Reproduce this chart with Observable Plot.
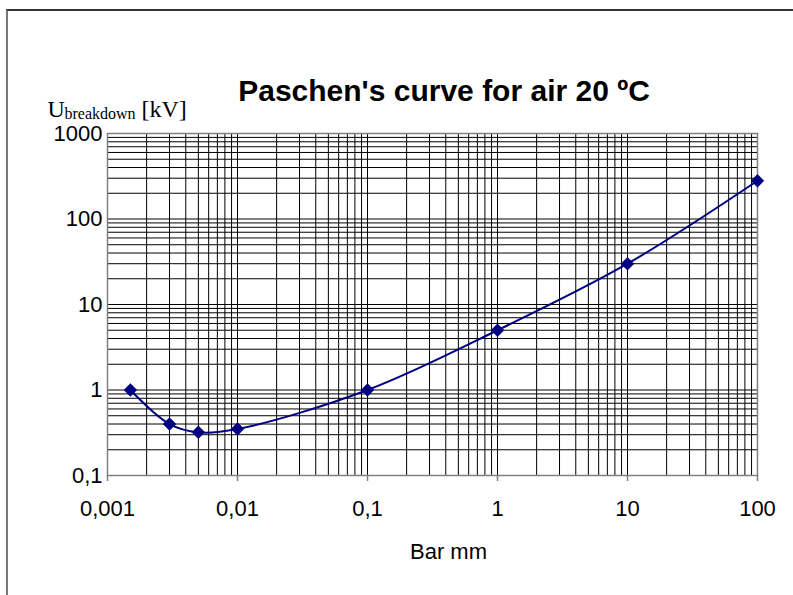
<!DOCTYPE html>
<html>
<head>
<meta charset="utf-8">
<script src="https://cdn.jsdelivr.net/npm/d3@7"></script>
<script src="https://cdn.jsdelivr.net/npm/@observablehq/plot@0.6"></script>
<style>
  html, body { margin: 0; padding: 0; background: #fff; }
  #chart { position: relative; width: 793px; height: 595px; overflow: hidden; }
  #chart svg { position: absolute; left: 0; top: 0; }
  #border { position: absolute; left: 6px; top: 9px; width: 900px; height: 700px;
            border-left: 2px solid #777; border-top: 2px solid #333; }
</style>
</head>
<body>
<div id="chart"><div id="border"></div></div>
<script>
// Paschen's curve for air at 20 °C: pressure × gap distance vs breakdown voltage
const pressureGap = [0.0015, 0.003, 0.005, 0.01, 0.1, 1, 10, 100];   // bar·mm
const breakdownKV = [1, 0.4, 0.32, 0.35, 1, 5, 30, 280];             // kV

const xMajorTicks = [0.001, 0.01, 0.1, 1, 10, 100];
const yMajorTicks = [0.1, 1, 10, 100, 1000];

const titleText = "Paschen's curve for air 20 ºC";
const xLabelText = "Bar mm";
const yLabelMain = "U";
const yLabelSub = "breakdown";
const yLabelUnit = "[kV]";

const points = pressureGap.map((x, i) => ({x, y: breakdownKV[i]}));

// minor log grid: 1..9 in every decade
const xGrid = d3.scaleLog().domain([0.001, 100]).ticks();
const yGrid = d3.scaleLog().domain([0.1, 1000]).ticks();

const commaDecimal = d => String(d).replace(".", ",");

const sans = "'Liberation Sans', Arial, Helvetica, sans-serif";
const serif = "'Liberation Serif', 'Times New Roman', Times, serif";

const chart = Plot.plot({
  width: 793,
  height: 595,
  marginLeft: 107,
  marginRight: 36,
  marginTop: 133,
  marginBottom: 120,
  style: {fontFamily: sans, fontSize: "20px", color: "#000", background: "transparent", overflow: "visible"},
  x: {type: "log", domain: [0.001, 100]},
  y: {type: "log", domain: [0.1, 1000]},
  marks: [
    Plot.gridX(xGrid, {stroke: "#000", strokeOpacity: 1, strokeWidth: 1}),
    Plot.gridY(yGrid, {stroke: "#000", strokeOpacity: 1, strokeWidth: 1}),
    Plot.frame({stroke: "#808080", strokeWidth: 1.5}),
    Plot.axisX(xMajorTicks, {tickSize: 6, tickPadding: 19, tickFormat: commaDecimal,
      stroke: "#808080", strokeWidth: 1.5, fontSize: 22, label: null}),
    Plot.axisY(yMajorTicks, {tickSize: 0, tickPadding: 5, tickFormat: commaDecimal,
      fontSize: 22, label: null}),
    Plot.line(points, {x: "x", y: "y", curve: "catmull-rom", stroke: "#000080", strokeWidth: 2}),
    Plot.dot(points, {x: "x", y: "y", symbol: "diamond2", r: 5.8, fill: "#000080", stroke: "#000080", strokeWidth: 0.5}),
    // title
    Plot.text([titleText], {frameAnchor: "top-left", dx: 336.5, dy: -32.5, text: d => d,
      textAnchor: "middle", lineAnchor: "bottom", fontSize: 30, fontWeight: "bold", fill: "#000"}),
    // y axis label: U with subscript
    Plot.text([yLabelMain], {frameAnchor: "top-left", dx: -60, dy: -17, text: d => d,
      textAnchor: "start", lineAnchor: "bottom", fontSize: 24, fontFamily: serif, fill: "#000"}),
    Plot.text([yLabelSub], {frameAnchor: "top-left", dx: -43, dy: -15, text: d => d,
      textAnchor: "start", lineAnchor: "bottom", fontSize: 16, fontFamily: serif, fill: "#000"}),
    Plot.text([yLabelUnit], {frameAnchor: "top-left", dx: 34, dy: -17, text: d => d,
      textAnchor: "start", lineAnchor: "bottom", fontSize: 24, fontFamily: serif, fill: "#000"}),
    // x axis label
    Plot.text([xLabelText], {frameAnchor: "bottom-left", dx: 341, dy: 83, text: d => d,
      textAnchor: "middle", lineAnchor: "bottom", fontSize: 22, fill: "#000"})
  ]
});

document.getElementById("chart").appendChild(chart);
</script>
</body>
</html>
